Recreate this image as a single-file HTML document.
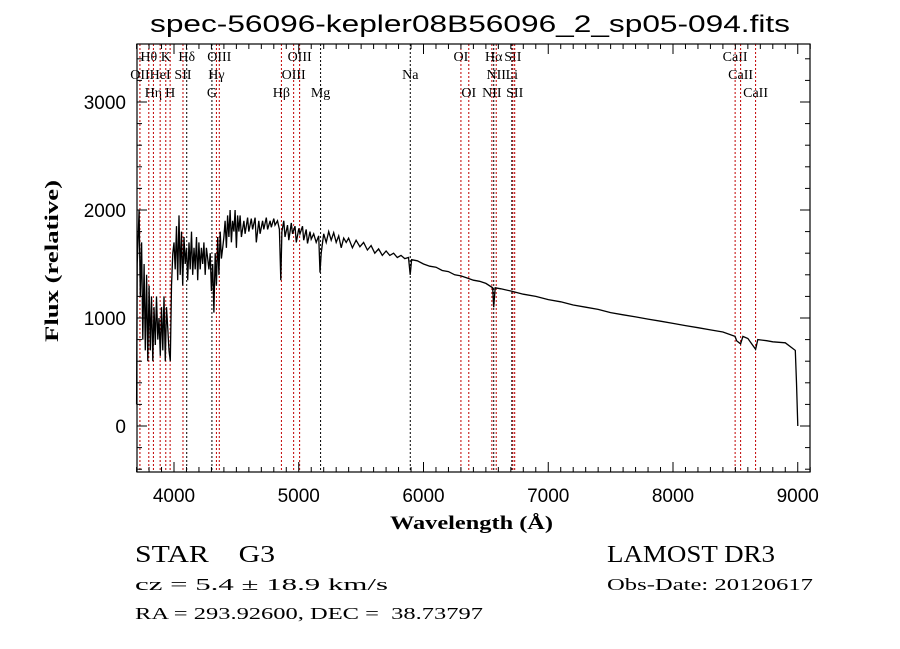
<!DOCTYPE html>
<html><head><meta charset="utf-8"><style>
body{margin:0;background:#fff;width:900px;height:649px;overflow:hidden}
svg{display:block}
text{white-space:pre}
</style></head><body>
<svg id="chart" width="900" height="649">
<text x="150" y="32" textLength="640" lengthAdjust="spacingAndGlyphs" font-family="Liberation Sans, sans-serif" font-size="24">spec-56096-kepler08B56096_2_sp05-094.fits</text>
<text x="390" y="529" textLength="163" lengthAdjust="spacingAndGlyphs" font-family="Liberation Serif, serif" font-size="19" font-weight="bold">Wavelength (Å)</text>
<text transform="translate(58,342) rotate(-90)" textLength="162" lengthAdjust="spacingAndGlyphs" font-family="Liberation Serif, serif" font-size="19" font-weight="bold">Flux (relative)</text>
<text x="135" y="562" textLength="140" lengthAdjust="spacingAndGlyphs" font-family="Liberation Serif, serif" font-size="24">STAR    G3</text>
<text x="135" y="590" textLength="253" lengthAdjust="spacingAndGlyphs" font-family="Liberation Serif, serif" font-size="17">cz = 5.4 ± 18.9 km/s</text>
<text x="135" y="619" textLength="348" lengthAdjust="spacingAndGlyphs" font-family="Liberation Serif, serif" font-size="17">RA = 293.92600, DEC =  38.73797</text>
<text x="607" y="562" textLength="168" lengthAdjust="spacingAndGlyphs" font-family="Liberation Serif, serif" font-size="24">LAMOST DR3</text>
<text x="607" y="590" textLength="206" lengthAdjust="spacingAndGlyphs" font-family="Liberation Serif, serif" font-size="17">Obs-Date: 20120617</text>
<g id="plot"></g>
</svg>
<script>
const waves=[3700,3705,3720,3730,3740,3750,3760,3770,3780,3790,3800,3810,3820,3830,3840,3850,3860,3870,3880,3890,3900,3910,3920,3930,3940,3950,3960,3970,3980,3990,
4000,4010,4020,4030,4040,4050,4060,4070,4080,4090,4100,4110,4120,4130,4140,4150,4160,4170,4180,4190,4200,4210,4220,4230,4240,4250,4260,4270,4280,4290,4300,4310,4320,4330,4340,4350,4360,4370,4380,4390,4400,
4410,4420,4430,4440,4450,4460,4470,4480,4490,4500,4510,4520,4530,4540,4560,4570,4590,4600,4620,4630,4650,4660,4680,4690,4710,4720,4740,4750,4770,4780,4800,4810,4830,4845,4856,4865,4880,4890,4910,4920,4940,4950,4970,4980,5000,5010,5030,5040,5060,5070,5090,5100,5120,5140,5160,5170,5180,5200,5220,5240,5260,5280,5300,5320,5340,5360,5380,5400,5430,5460,5490,5520,5550,5580,5610,5640,5670,5700,5730,5760,5790,5820,5850,5880,5893,5905,5950,6000,
6050,6100,6150,6200,6250,6300,6350,6400,6450,6500,6555,6563,6575,6620,6700,6800,6900,7000,7100,7200,7300,7400,7500,7600,7700,7800,7900,8000,8100,8200,8300,8400,8498,8510,8542,8560,8600,8662,8680,8750,8800,8900,8980,8990,9000];
const fluxes=[200,1500,2000,1200,1700,800,1500,700,1400,600,1300,700,1200,600,1100,750,1200,800,1000,650,1100,700,1200,600,1100,900,700,600,1300,1600,
1700,1450,1850,1350,1950,1400,1800,1300,1750,1500,1650,1350,1700,1450,1800,1400,1650,1450,1750,1350,1700,1450,1650,1500,1700,1400,1650,1550,1450,1600,1250,1500,1050,1600,1300,1750,1400,1800,1550,1650,1750,
1900,1650,1950,1750,2000,1700,1900,1800,2000,1650,1950,1800,1950,1750,1900,1780,1930,1800,1920,1820,1930,1700,1900,1780,1900,1820,1930,1820,1900,1840,1920,1860,1900,1820,1350,1800,1900,1750,1860,1720,1880,1780,1850,1700,1830,1780,1850,1720,1820,1690,1800,1730,1780,1700,1760,1420,1600,1780,1700,1800,1720,1790,1700,1760,1650,1740,1700,1740,1650,1720,1660,1700,1630,1670,1600,1640,1580,1620,1580,1600,1560,1580,1550,1560,1400,1540,1530,1500,
1480,1470,1440,1430,1400,1390,1370,1350,1340,1320,1280,1100,1280,1270,1250,1220,1200,1170,1150,1120,1100,1080,1050,1030,1010,990,970,950,930,910,890,870,830,790,760,830,810,710,800,790,780,770,700,400,0];
const lineNames=["OII","Hθ","Hη","HeI","K","H","SII","Hδ","G","Hγ","OIII","Hβ","OIII","OIII","Mg","Na","OI","OI","NII","Hα","NII","Li","SII","SII","CaII","CaII","CaII"];
const lineWaves=[3727,3798,3835,3889,3934,3969,4072,4102,4304,4340,4363,4861,4959,5007,5175,5894,6300,6363,6548,6563,6583,6708,6716,6731,8498,8542,8662];
const lineRows=[1,0,2,1,0,2,1,0,2,1,0,2,1,0,2,1,0,2,2,0,1,1,0,2,0,1,2];
const lineRed=[1,1,1,1,1,1,1,0,0,1,1,1,1,1,0,0,1,1,1,0,1,0,1,1,1,1,1];
const xTicks=[4000,5000,6000,7000,8000,9000];
const yTicks=[0,1000,2000,3000];
const X0=137,X1=810,Y0=44,Y1=472;
const xs=w=>174+(w-4000)*0.12475;
const ys=f=>426-f*0.108;
const NS="http://www.w3.org/2000/svg";
const g=document.getElementById('plot');
function mk(t,a){const e=document.createElementNS(NS,t);for(const k in a)e.setAttribute(k,a[k]);g.appendChild(e);return e;}
lineWaves.forEach((w,i)=>{
 const x=xs(w);
 const l=mk('line',{x1:x,x2:x,y1:Y0,y2:Y1,stroke:lineRed[i]?'#c00000':'#000','stroke-width':1,'stroke-dasharray':'2,2'});
 
 
 const t=mk('text',{x:x,y:61+lineRows[i]*18,'text-anchor':'middle','font-size':14,'font-family':'Liberation Serif, serif'});
 t.textContent=lineNames[i];
 
 
});
const pts=waves.map((w,i)=>xs(w).toFixed(1)+','+ys(fluxes[i]).toFixed(1)).join(' ');
const p=mk('polyline',{points:pts,fill:'none',stroke:'#000','stroke-width':1.3});


const r=mk('rect',{x:X0,y:Y0,width:X1-X0,height:Y1-Y0,fill:'none',stroke:'#000','stroke-width':1.2});


for(let w=3700;w<=9100;w+=100){const x=xs(w);const maj=w%1000===0;const L=maj?10:5;
 mk('line',{x1:x,x2:x,y1:Y1,y2:Y1-L,stroke:'#000'});mk('line',{x1:x,x2:x,y1:Y0,y2:Y0+L,stroke:'#000'});}
xTicks.forEach(w=>{const t=mk('text',{x:xs(w),y:502,'text-anchor':'middle','font-size':19,'font-family':'Liberation Sans, sans-serif'});t.textContent=w;
 
 });
for(let f=-400;f<=3400;f+=200){const y=ys(f);const maj=f%1000===0;const L=maj?10:5;
 mk('line',{x1:X0,x2:X0+L,y1:y,y2:y,stroke:'#000'});mk('line',{x1:X1,x2:X1-L,y1:y,y2:y,stroke:'#000'});}
yTicks.forEach(f=>{const t=mk('text',{x:126,y:ys(f)+7,'text-anchor':'end','font-size':19,'font-family':'Liberation Sans, sans-serif'});t.textContent=f;
 
 });
</script>
</body></html>
